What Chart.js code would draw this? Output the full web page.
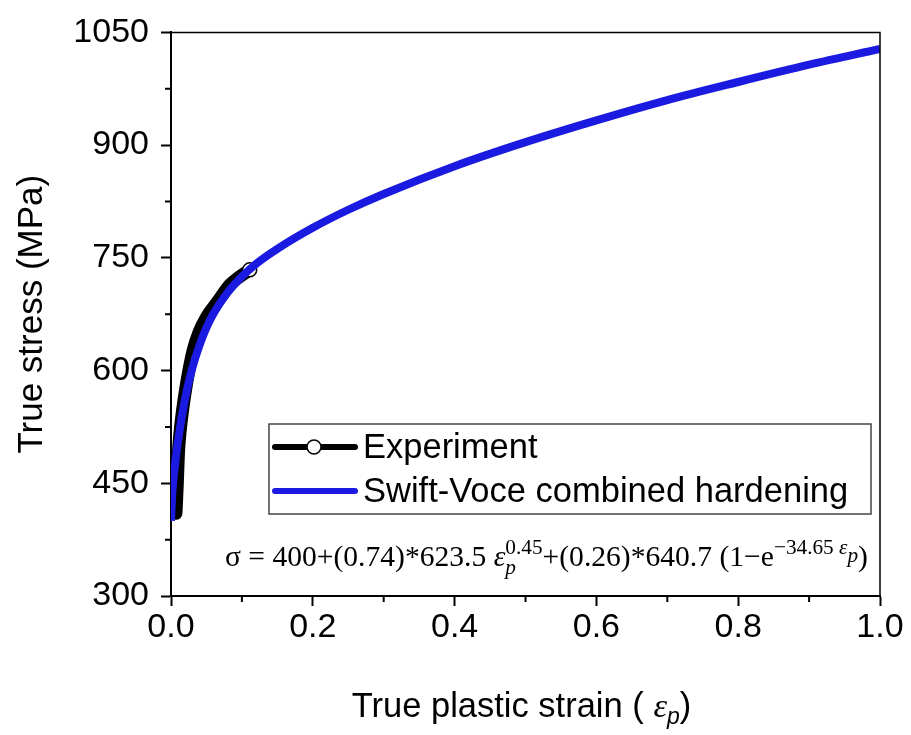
<!DOCTYPE html>
<html>
<head>
<meta charset="utf-8">
<script src="https://cdn.jsdelivr.net/npm/chart.js@4/dist/chart.umd.min.js"></script>
<style>
  html, body { margin: 0; padding: 0; background: #fff; }
  #wrap { width: 911px; height: 735px; }
</style>
</head>
<body>
<div id="wrap"><canvas id="c" width="911" height="735"></canvas></div>
<script>
// ---- data ----
const fitStrain  = [0, 0.002, 0.005, 0.01, 0.02, 0.03, 0.04, 0.05, 0.06, 0.08, 0.10, 0.12, 0.15, 0.2, 0.25, 0.3, 0.4, 0.5, 0.6, 0.7, 0.8, 0.9, 1.0];
const fitStress  = [400, 439, 469, 507, 563, 603, 633, 657, 676, 704, 725, 742, 762, 790, 814, 835, 872, 904, 933, 960, 984, 1007, 1028];
const expStrain  = [0.007, 0.008, 0.009, 0.010, 0.011, 0.013, 0.016, 0.022, 0.031, 0.040, 0.050, 0.066, 0.083, 0.097, 0.111];
const expStress  = [410, 430, 452, 478, 498, 520, 545, 583, 626, 652, 671, 692, 714, 725, 734];
const seriesNames = ['Experiment', 'Swift-Voce combined hardening'];
const yTicks = [300, 450, 600, 750, 900, 1050];
const xTicks = [0.0, 0.2, 0.4, 0.6, 0.8, 1.0];
const yTitle = 'True stress (MPa)';
const xTitle = 'True plastic strain ( ';

const SANS = '"Liberation Sans", Arial, sans-serif';
const SERIF = '"Liberation Serif", "Times New Roman", serif';

const fitPts = fitStrain.map((x, i) => ({x, y: fitStress[i]}));
const expPts = expStrain.map((x, i) => ({x, y: expStress[i]}));
const lastIdx = expPts.length - 1;

const decor = {
  id: 'decor',
  afterDraw(chart) {
    const ctx = chart.ctx;
    const a = chart.chartArea;
    const xs = chart.scales.x, ys = chart.scales.y;
    ctx.save();
    // frame top/right
    ctx.strokeStyle = '#000';
    ctx.lineWidth = 1.5;
    ctx.beginPath();
    ctx.moveTo(a.left, a.top); ctx.lineTo(a.right, a.top); ctx.lineTo(a.right, a.bottom);
    ctx.stroke();
    // minor ticks
    ctx.lineWidth = 2;
    ctx.beginPath();
    for (let i = 0; i < yTicks.length - 1; i++) {
      const v = (yTicks[i] + yTicks[i + 1]) / 2;
      const p = ys.getPixelForValue(v);
      ctx.moveTo(a.left - 6, p); ctx.lineTo(a.left, p);
    }
    for (let i = 0; i < xTicks.length - 1; i++) {
      const v = (xTicks[i] + xTicks[i + 1]) / 2;
      const p = xs.getPixelForValue(v);
      ctx.moveTo(p, a.bottom); ctx.lineTo(p, a.bottom + 6);
    }
    ctx.stroke();

    // legend
    const bx = 269, by = 424, bw = 602, bh = 90;
    ctx.fillStyle = '#fff';
    ctx.fillRect(bx, by, bw, bh);
    ctx.strokeStyle = '#444';
    ctx.lineWidth = 1.5;
    ctx.strokeRect(bx, by, bw, bh);
    const rows = [by + 23, by + 67];
    ctx.lineCap = 'round';
    ctx.lineWidth = 6;
    ctx.strokeStyle = '#000';
    ctx.beginPath(); ctx.moveTo(275, rows[0]); ctx.lineTo(355, rows[0]); ctx.stroke();
    ctx.lineWidth = 1.5;
    ctx.fillStyle = '#fff';
    ctx.beginPath(); ctx.arc(314, rows[0], 7, 0, Math.PI * 2); ctx.fill(); ctx.stroke();
    ctx.lineWidth = 6;
    ctx.strokeStyle = '#1a1ae0';
    ctx.beginPath(); ctx.moveTo(275, rows[1]); ctx.lineTo(355, rows[1]); ctx.stroke();
    ctx.fillStyle = '#000';
    ctx.font = '34.5px ' + SANS;
    ctx.textBaseline = 'middle';
    ctx.textAlign = 'left';
    ctx.fillText(seriesNames[0], 363, rows[0] + 1);
    ctx.fillText(seriesNames[1], 363, rows[1] + 1);

    // formula
    drawFormula(ctx, 225, 868, 566);

    // x title
    ctx.fillStyle = '#000';
    ctx.textBaseline = 'alphabetic';
    const base = 717;
    const FS = 34.5;
    ctx.font = FS + 'px ' + SANS;
    const w1 = ctx.measureText(xTitle).width;
    ctx.font = 'italic ' + FS + 'px ' + SERIF;
    const w2 = ctx.measureText('\u03b5').width;
    ctx.font = 'italic 23px ' + SANS;
    const w3 = ctx.measureText('p').width;
    ctx.font = FS + 'px ' + SANS;
    const w4 = ctx.measureText(')').width;
    let x0 = (a.left + a.right) / 2 - (w1 + w2 + w3 + w4) / 2 - 4;
    ctx.fillText(xTitle, x0, base); x0 += w1;
    ctx.font = 'italic ' + FS + 'px ' + SERIF;
    ctx.fillText('\u03b5', x0, base); x0 += w2;
    ctx.font = 'italic 23px ' + SANS;
    ctx.fillText('p', x0, base + 7); x0 += w3;
    ctx.font = FS + 'px ' + SANS;
    ctx.fillText(')', x0, base);
    ctx.restore();
  }
};

function drawFormula(ctx, left, right, base) {
  function layout(F, draw) {
    let x = left;
    const parts = [
      {t: '\u03c3 = 400+(0.74)*623.5 ', f: F + 'px ' + SERIF, dy: 0},
      {t: '\u03b5', f: 'italic ' + F + 'px ' + SERIF, dy: 0},
      {t: 'p', f: 'italic ' + (F * 0.72) + 'px ' + SERIF, dy: F * 0.28, sub: true},
      {t: '0.45', f: (F * 0.72) + 'px ' + SERIF, dy: -F * 0.42, sup: true},
      {t: '+(0.26)*640.7 (1\u2212e', f: F + 'px ' + SERIF, dy: 0},
      {t: '\u221234.65 ', f: (F * 0.72) + 'px ' + SERIF, dy: -F * 0.42},
      {t: '\u03b5', f: 'italic ' + (F * 0.72) + 'px ' + SERIF, dy: -F * 0.42},
      {t: 'p', f: 'italic ' + (F * 0.72) + 'px ' + SERIF, dy: -F * 0.12},
      {t: ')', f: F + 'px ' + SERIF, dy: 0}
    ];
    let subStart = 0, subW = 0;
    for (const p of parts) {
      ctx.font = p.f;
      const w = ctx.measureText(p.t).width;
      if (p.sub) { subStart = x; subW = w; }
      let px = x;
      if (p.sup) { px = subStart; }
      if (draw) ctx.fillText(p.t, px, base + p.dy);
      if (p.sup) { x = Math.max(subStart + subW, subStart + w); }
      else x += w;
    }
    return x - left;
  }
  ctx.save();
  ctx.fillStyle = '#000';
  ctx.textBaseline = 'alphabetic';
  ctx.textAlign = 'left';
  const w0 = layout(26, false);
  const F = 26 * (right - left) / w0;
  layout(F, true);
  ctx.restore();
}

new Chart(document.getElementById('c'), {
  type: 'line',
  data: {
    datasets: [
      {
        label: seriesNames[1],
        data: fitPts,
        borderColor: '#1a1ae0',
        backgroundColor: '#1a1ae0',
        borderWidth: 8,
        pointRadius: 0,
        cubicInterpolationMode: 'monotone',
        fill: false
      },
      {
        label: seriesNames[0],
        data: expPts,
        borderColor: '#000',
        backgroundColor: '#fff',
        borderWidth: 13,
        borderCapStyle: 'round',
        pointRadius: expPts.map((p, i) => i === lastIdx ? 7 : 0),
        pointBorderWidth: 1.5,
        pointBorderColor: '#000',
        pointBackgroundColor: '#fff',
        cubicInterpolationMode: 'monotone',
        fill: false
      }
    ]
  },
  options: {
    responsive: false,
    animation: false,
    layout: { padding: { top: 24, right: 31, left: 0, bottom: 0 } },
    plugins: { legend: { display: false }, tooltip: { enabled: false } },
    scales: {
      x: {
        type: 'linear',
        min: 0, max: 1,
        afterFit(s) { s.height = 139; },
        afterBuildTicks(s) { s.ticks = xTicks.map(v => ({value: v})); },
        border: { display: true, color: '#000', width: 2 },
        grid: { drawOnChartArea: false, drawTicks: true, tickLength: 10, tickColor: '#000', tickWidth: 2 },
        ticks: {
          color: '#000', padding: 1, maxRotation: 0,
          font: { family: SANS, size: 34 },
          callback: v => Number(v).toFixed(1)
        }
      },
      y: {
        type: 'linear',
        min: 300, max: 1050,
        afterFit(s) { s.width = 171; },
        afterBuildTicks(s) { s.ticks = yTicks.map(v => ({value: v})); },
        border: { display: true, color: '#000', width: 2 },
        grid: { drawOnChartArea: false, drawTicks: true, tickLength: 10, tickColor: '#000', tickWidth: 2 },
        ticks: {
          color: '#000', padding: 12,
          font: { family: SANS, size: 34 },
          callback: v => String(v)
        },
        title: {
          display: true, text: yTitle, color: '#000',
          font: { family: SANS, size: 35 },
          padding: { top: 11, bottom: 0 }
        }
      }
    }
  },
  plugins: [decor]
});
</script>
</body>
</html>
